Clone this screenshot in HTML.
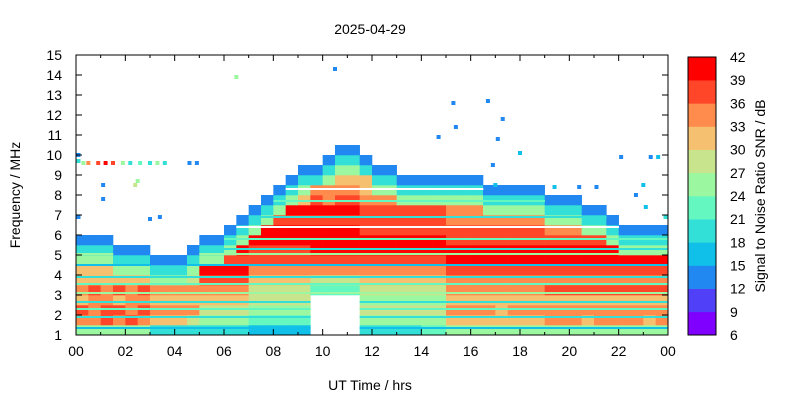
<!DOCTYPE html>
<html><head><meta charset="utf-8"><style>
body{margin:0;background:#fff;}
svg{display:block;font-family:"Liberation Sans",sans-serif;}
</style></head><body>
<svg id="chart" width="800" height="400" xmlns="http://www.w3.org/2000/svg">
<rect width="800" height="400" fill="#fff"/>
<text x="370" y="34" text-anchor="middle" font-size="14">2025-04-29</text>
<text x="370" y="390" text-anchor="middle" font-size="14">UT Time / hrs</text>
<text transform="translate(20,195) rotate(-90)" text-anchor="middle" font-size="14">Frequency / MHz</text>
<text transform="translate(765,196) rotate(-90)" text-anchor="middle" font-size="14">Signal to Noise Ratio SNR / dB</text>
<g id="cells"></g>
<g id="axes"></g>
<g id="cbar"></g>
</svg>
<script>
// Colour levels (SNR bands 6..42, step 3)
const levelColors = ['#8000ff','#5040f8','#2088f0','#10c0e8','#32e0d8','#64f8c0','#9cf8a0','#c8e48c','#f5c070','#ff8c4c','#ff4628','#ff0000'];
const cbarTicks = [6,9,12,15,18,21,24,27,30,33,36,39,42];
const xTickLabels = ['00','02','04','06','08','10','12','14','16','18','20','22','00'];
const yTicks = [1,2,3,4,5,6,7,8,9,10,11,12,13,14,15];
// SNR grid: rows from 1.0 MHz upward in 0.5 MHz steps, 48 half-hour columns. '.' = no data; 0..B = level
const gridRows = [
 "66666644 44444433 333....4 44445566 66666666 66666666",
 "99A9A988 87666655 555....6 66666688 88888899 98999989",
 "A9AA9A99 99777766 666....7 77777799 99899999 99999999",
 "89989988 88888877 777....6 66666688 88888888 88888888",
 "9A9A9A99 99999977 77755557 77777799 999999AA AAAAAAAA",
 "88888866 67AAAA88 88877778 88888899 99999999 99999999",
 "88866644 46BBBB99 99999999 999999AA AAAAAAAA AAAAAAAA",
 "66644422 2466AAAA AAAAAAAA AAAAAABB BBBBBBBB BBBBBBBB",
 "444222.. .2446BAA AAABBBBB BBBBBBBB BBBBBBBB BBBB6666",
 "222..... ..2246BB BBBBBBBB BBBBBBAA AAAAAAAA AAA64444",
 "........ ....246B BBBBBBBA AAAAAAAA AAAAAA99 96642222",
 "........ .....246 AAAAAAAA AAAAAA99 99999966 6442....",
 "........ ......24 6BBBBBBA AAAAAA99 96666644 422.....",
 "........ .......2 468A9AA9 99666666 64444422 2.......",
 "........ ........ 24699998 66444444 422222.. ........",
 "........ ........ .2446888 44222222 2....... ........",
 "........ ........ ..224664 22...... ........ ........",
 "........ ........ ....2442 ........ ........ ........",
 "........ ........ .....22. ........ ........ ........"
];
// Horizontal interference/low-SNR streaks: frequency (MHz) and level ('.' = gap)
const streakFreqs = [1.35,1.9,2.3,2.65,3.1,3.55,3.9,4.5,5.05,5.3,5.8,6.4,6.9,7.7,8.3];
const streakLevels = ['3','4','5','4','6','5','4','3','6','4','5','.','4','5','.'];
// Sparse detections: time (h), frequency (MHz), level
const dotTimes = [0.1,0.1,0.3,0.5,0.9,1.2,1.5,1.9,2.2,2.6,3.0,3.3,3.6,4.6,4.9,1.1,1.1,0.1,3.4,2.5,2.4,3.0,6.5,10.5,15.3,15.4,14.7,16.7,17.3,17.1,16.9,18.0,22.1,23.3,23.6,23.0,21.1,22.7,23.1,23.9,20.4,19.4,17.0];
const dotFreqs = [10.0,9.7,9.6,9.6,9.6,9.6,9.6,9.6,9.6,9.6,9.6,9.6,9.6,9.6,9.6,8.5,7.8,6.9,6.9,8.7,8.5,6.8,13.9,14.3,12.6,11.4,10.9,12.7,11.8,10.8,9.5,10.1,9.9,9.9,9.9,8.5,8.4,8.0,7.4,6.9,8.4,8.4,8.5];
const dotLevels = ['2','4','6','9','A','B','A','6','4','5','4','6','4','2','2','2','2','2','2','6','7','2','6','2','2','2','2','2','2','2','2','3','2','2','3','3','2','2','3','4','2','3','3'];

const X0=76,X1=668,Y0=335,Y1=55;
const xs = t => X0 + (X1-X0)*t/24;
const ys = f => Y0 - (Y0-Y1)*(f-1)/14;
const NS='http://www.w3.org/2000/svg';
function mk(tag,attrs,parent){const e=document.createElementNS(NS,tag);for(const k in attrs)e.setAttribute(k,attrs[k]);parent.appendChild(e);return e;}
const lv = ch => parseInt(ch,16);
const grid = gridRows.map(r=>r.replace(/ /g,''));

const cells=document.getElementById('cells');
grid.forEach((s,r)=>{
  for(let c=0;c<s.length;c++){
    if(s[c]==='.')continue;
    const t0=c*0.5, f0=1+r*0.5;
    const x=xs(t0), y=ys(f0+0.5);
    const el=mk('rect',{x:x.toFixed(2),y:y.toFixed(2),width:(xs(t0+0.5)-x+0.3).toFixed(2),height:(ys(f0)-y+0.3).toFixed(2),fill:levelColors[lv(s[c])]},cells);
    
    
  }
});
// streaks drawn only where the grid has data and the cell is not a fringe cell
streakFreqs.forEach((f,i)=>{
  const r=Math.floor((f-1)/0.5);
  if(!grid[r])return;
  const s=grid[r], above=grid[r+1]||'';
  for(let c=0;c<s.length;c++){
    if(s[c]==='.'||above[c]==='.'||!above[c])continue;
    const fill = streakLevels[i]==='.' ? '#ffffff' : levelColors[lv(streakLevels[i])];
    const el=mk('rect',{x:xs(c*0.5).toFixed(2),y:(ys(f)-1).toFixed(2),width:(xs(0.5)-X0+0.3).toFixed(2),height:2,fill:fill},cells);
    
    
  }
});
dotTimes.forEach((t,i)=>{
  const el=mk('rect',{x:(xs(t)-2).toFixed(2),y:(ys(dotFreqs[i])-2).toFixed(2),width:4,height:4,fill:levelColors[lv(dotLevels[i])]},cells);
  
  
});

const axes=document.getElementById('axes');
const frame=mk('rect',{x:X0,y:Y1,width:X1-X0,height:Y0-Y1,fill:'none',stroke:'#000','stroke-width':1},axes);


for(let h=0;h<=24;h++){
  const x=xs(h), L=(h%2===0)?6:3;
  mk('line',{x1:x,y1:Y0,x2:x,y2:Y0-L,stroke:'#000'},axes);
  mk('line',{x1:x,y1:Y1,x2:x,y2:Y1+L,stroke:'#000'},axes);
}
xTickLabels.forEach((lab,i)=>{
  const el=mk('text',{x:xs(i*2),y:Y0+21,'text-anchor':'middle','font-size':14},axes);
  el.textContent=lab;
  
  
});
yTicks.forEach(v=>{
  const y=ys(v);
  mk('line',{x1:X0,y1:y,x2:X0+6,y2:y,stroke:'#000'},axes);
  mk('line',{x1:X1,y1:y,x2:X1-6,y2:y,stroke:'#000'},axes);
  const el=mk('text',{x:X0-14,y:y+5,'text-anchor':'end','font-size':14},axes);
  el.textContent=v;
  
  
});

const cb=document.getElementById('cbar');
const CX=688,CW=28,CT=57,CB=335;
const cy = v => CB - (CB-CT)*(v-6)/36;
levelColors.forEach((col,i)=>{
  const el=mk('rect',{x:CX,y:cy(6+3*(i+1)),width:CW,height:(cy(6+3*i)-cy(6+3*(i+1))+0.3),fill:col},cb);
  
  
});
mk('rect',{x:CX,y:CT,width:CW,height:CB-CT,fill:'none',stroke:'#000'},cb);
cbarTicks.forEach(v=>{
  const el=mk('text',{x:730,y:cy(v)+5,'font-size':14},cb);
  el.textContent=v;
  
  
});
</script>
</body></html>
